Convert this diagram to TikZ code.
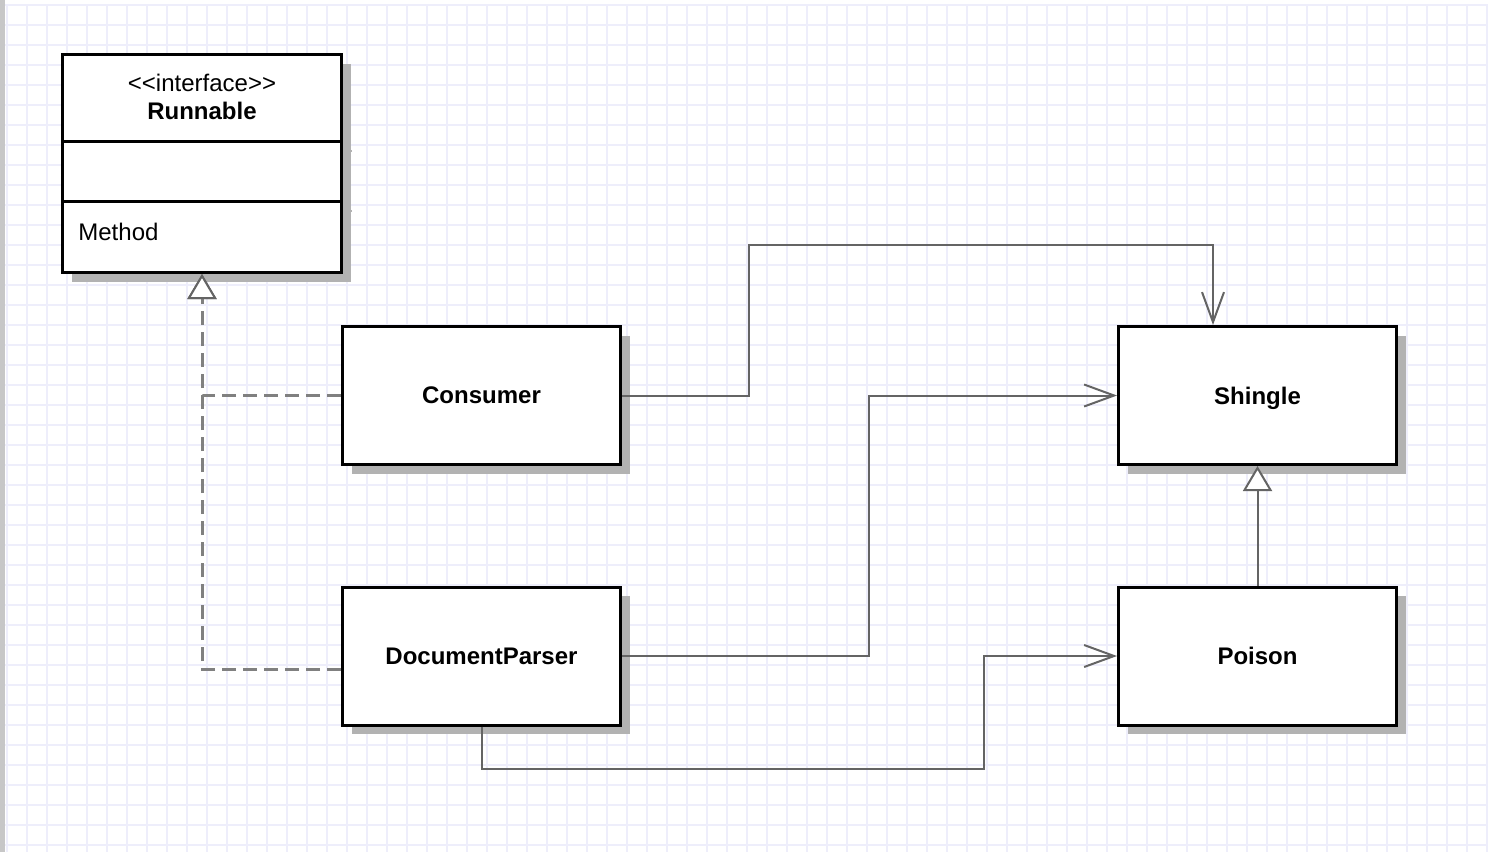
\documentclass[tikz,border=0pt]{standalone}
\usepackage{fontspec}
\setmainfont{Liberation Sans}
\usetikzlibrary{arrows.meta,shadows}
\definecolor{gridc}{RGB}{238,238,251}
\definecolor{linec}{RGB}{100,100,100}
\definecolor{dashc}{RGB}{128,128,128}
\definecolor{shadc}{RGB}{178,178,178}
\begin{document}
\begin{tikzpicture}[x=0.5pt,y=-0.5pt,
  box/.style={draw=black,line width=1.5pt,fill=white,minimum width=139pt,minimum height=69pt,
    text depth=0pt,font=\fontsize{12pt}{14pt}\selectfont\bfseries,
    drop shadow={shadow xshift=4.5pt,shadow yshift=-4.5pt,fill=shadc,opacity=1}},
  assoc/.style={draw=linec,line width=1pt,-{Straight Barb[length=15pt,width=11pt]}},
  gen/.style={draw=linec,line width=1pt,-{Triangle[open,length=12.5pt,width=14.5pt,fill=white]}},
  real/.style={draw=dashc,line width=1.5pt,dash pattern=on 7pt off 3.5pt,
    -{Triangle[open,length=12.5pt,width=14.5pt,fill=white,line width=1pt,color=linec]}},
  txt/.style={font=\fontsize{12pt}{14pt}\selectfont,inner sep=0pt}]
\useasboundingbox (0,0) rectangle (1488,852);
\fill[white] (0,0) rectangle (1488,852);
\foreach \i in {0,...,74} {\draw[gridc,line width=0.8pt] (7+20*\i,4) -- (7+20*\i,852);}
\foreach \j in {0,...,42} {\draw[gridc,line width=0.8pt] (5,5+20*\j) -- (1488,5+20*\j);}
\fill[black!22] (0,0) rectangle (5,852);
% Runnable
\node[box,minimum width=139.5pt,minimum height=109pt] (runnable) at (202,163.5) {};
\draw[black,line width=1.5pt] (runnable.west |- {(0,141)}) -- (runnable.east |- {(0,141)});
\draw[black,line width=1.5pt] (runnable.west |- {(0,201)}) -- (runnable.east |- {(0,201)});
\draw[shadc,line width=0.7pt] (344,151) -- (352,151) (344,211) -- (352,211);
\node[txt] (stereo) at (202,83) {<{}<interface>{}>};
\node[txt,font=\fontsize{12pt}{14pt}\selectfont\bfseries] (rname) at (202,111) {Runnable};
\node[txt,anchor=west] (meth) at (78,232) {Method};
% classes
\node[box] (consumer) at (481.5,395.5) {Consumer};
\node[box] (dp) at (481.5,656) {DocumentParser};
\node[box] (shingle) at (1257.5,395.5) {Shingle};
\node[box] (poison) at (1257.5,656) {Poison};
% realizations
\draw[real] (dp.west |- {(0,669)}) -| (runnable.south);
\draw[real] (consumer.west) -| (runnable.south);
% associations
\draw[assoc] (consumer.east) -- (749,395.5) |- (1213,245) -- (shingle.north -| {(1213,0)});
\draw[assoc] (dp.east) -- (869,656) |- (shingle.west);
\draw[assoc] (dp.south) |- (984,769) |- (poison.west);
% generalization
\draw[gen] (poison.north) -- (shingle.south);
\end{tikzpicture}
\end{document}
